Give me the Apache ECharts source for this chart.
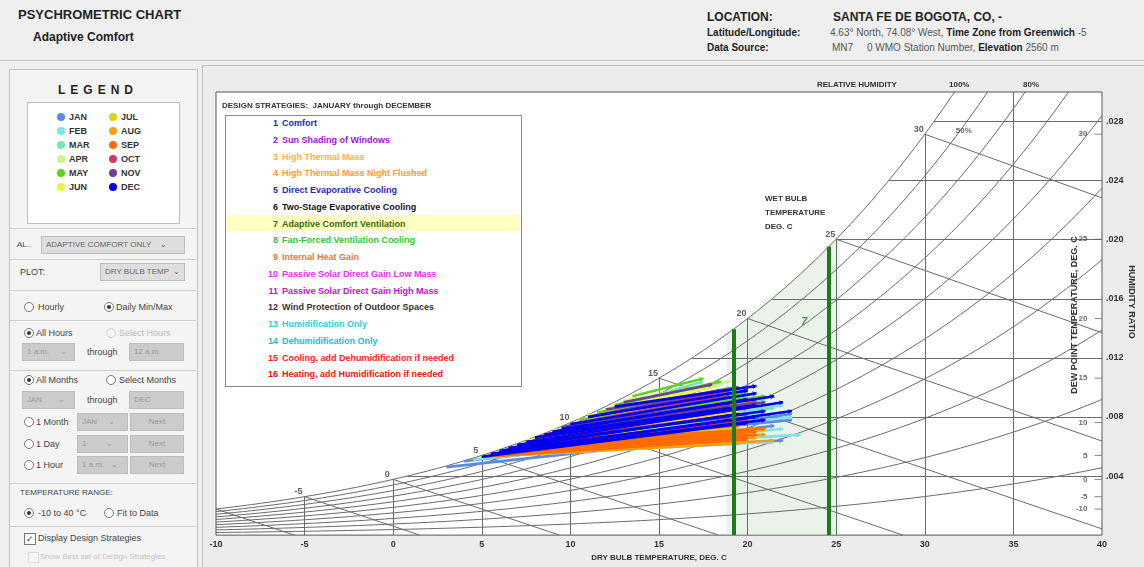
<!DOCTYPE html>
<html>
<head>
<meta charset="utf-8">
<script src="https://cdn.jsdelivr.net/npm/echarts@6/dist/echarts.min.js"></script>
<style>
body{margin:0;width:1144px;height:567px;background:#efefef;font-family:"Liberation Sans",Arial,sans-serif;position:relative;overflow:hidden;color:#333}
.abs{position:absolute;white-space:nowrap}
.b{font-weight:bold}
.p9{font-size:9px;color:#444}
.rd{position:absolute;width:10px;height:10px;border:1px solid #777;border-radius:50%;background:#fff;box-sizing:border-box}
.rd.on::after{content:'';position:absolute;left:2px;top:2px;width:4px;height:4px;border-radius:50%;background:#333}
.rd.off{border-color:#d0d0d0;background:#f6f6f6}
.combo{position:absolute;height:18px;background:#cbcbcb;border:1px solid #bdbdbd;box-sizing:border-box;font-size:8px;color:#9a9a9a;padding:3px 4px;white-space:nowrap;overflow:hidden}
.combo.en{background:#dedede;color:#666}
.sep{position:absolute;left:10px;width:186px;height:0;border-top:1px solid #cfcfcf}
.dot{position:absolute;width:8px;height:8px;border-radius:50%}
.lg{position:absolute;font-size:9px;font-weight:bold;color:#333}
#chart{position:absolute;left:203px;top:66px;width:941px;height:501px}
.strat{position:absolute;left:226px;font-size:9px;font-weight:bold;line-height:12px;white-space:nowrap}
.strat span{display:inline-block;width:52px;text-align:right;margin-right:4px}
</style>
</head>
<body>
<!-- header -->
<div class="abs b" style="left:18px;top:7px;font-size:13px;color:#222">PSYCHROMETRIC CHART</div>
<div class="abs b" style="left:33px;top:30px;font-size:12px;color:#222">Adaptive Comfort</div>
<div class="abs b" style="left:707px;top:10px;font-size:12px;color:#222">LOCATION:</div>
<div class="abs b" style="left:833px;top:10px;font-size:12px;color:#222">SANTA FE DE BOGOTA, CO, -</div>
<div class="abs b" style="left:707px;top:27px;font-size:10px;color:#222">Latitude/Longitude:</div>
<div class="abs" style="left:830px;top:27px;font-size:10px;color:#555">4.63° North, 74.08° West, <b style="color:#222">Time Zone from Greenwich</b> -5</div>
<div class="abs b" style="left:707px;top:42px;font-size:10px;color:#222">Data Source:</div>
<div class="abs" style="left:832px;top:42px;font-size:10px;color:#555">MN7 &nbsp; &nbsp; 0 WMO Station Number, <b style="color:#222">Elevation</b> 2560 m</div>
<div class="abs" style="left:0;top:60px;width:1144px;height:0;border-top:1px solid #c4c4c4"></div>

<!-- left panel -->
<div class="abs" style="left:9px;top:69px;width:187px;height:500px;border:1px solid #c0c0c0;background:#f4f4f4"></div>
<div class="abs b" style="left:58px;top:83px;font-size:12px;letter-spacing:5px;color:#222">LEGEND</div>
<div class="abs" style="left:27px;top:102px;width:151px;height:120px;border:1px solid #bdbdbd;background:#fff"></div>
<div id="legend"></div>
<div class="sep" style="top:228px"></div>
<div class="abs p9" style="left:17px;top:240px;font-size:8px">AL..</div>
<div class="combo en" style="left:41px;top:236px;width:144px">ADAPTIVE COMFORT ONLY &nbsp;&nbsp; ⌄</div>
<div class="sep" style="top:259px"></div>
<div class="abs p9" style="left:20px;top:267px">PLOT:</div>
<div class="combo en" style="left:100px;top:263px;width:85px">DRY BULB TEMP &nbsp;⌄</div>
<div class="sep" style="top:290px"></div>
<div class="rd" style="left:24px;top:302px"></div><div class="abs p9" style="left:38px;top:302px">Hourly</div>
<div class="rd on" style="left:104px;top:302px"></div><div class="abs p9" style="left:116px;top:302px">Daily Min/Max</div>
<div class="sep" style="top:320px"></div>
<div class="rd on" style="left:24px;top:328px"></div><div class="abs p9" style="left:36px;top:328px">All Hours</div>
<div class="rd off" style="left:106px;top:328px"></div><div class="abs p9" style="left:119px;top:328px;color:#bbb">Select Hours</div>
<div class="combo" style="left:22px;top:343px;width:53px">1 a.m. &nbsp; &nbsp; ⌄</div>
<div class="abs p9" style="left:87px;top:347px">through</div>
<div class="combo" style="left:129px;top:343px;width:55px">12 a.m.</div>
<div class="sep" style="top:370px"></div>
<div class="rd on" style="left:24px;top:375px"></div><div class="abs p9" style="left:36px;top:375px">All Months</div>
<div class="rd" style="left:106px;top:375px"></div><div class="abs p9" style="left:119px;top:375px">Select Months</div>
<div class="combo" style="left:22px;top:391px;width:53px">JAN &nbsp; &nbsp; &nbsp; ⌄</div>
<div class="abs p9" style="left:87px;top:395px">through</div>
<div class="combo" style="left:129px;top:391px;width:55px">DEC</div>
<div class="rd" style="left:24px;top:417px"></div><div class="abs p9" style="left:36px;top:417px">1 Month</div>
<div class="combo" style="left:77px;top:413px;width:51px">JAN &nbsp; &nbsp; ⌄</div>
<div class="combo" style="left:130px;top:413px;width:54px;text-align:center">Next</div>
<div class="rd" style="left:24px;top:439px"></div><div class="abs p9" style="left:36px;top:439px">1 Day</div>
<div class="combo" style="left:77px;top:435px;width:51px">1 &nbsp; &nbsp; &nbsp; &nbsp; ⌄</div>
<div class="combo" style="left:130px;top:435px;width:54px;text-align:center">Next</div>
<div class="rd" style="left:24px;top:460px"></div><div class="abs p9" style="left:36px;top:460px">1 Hour</div>
<div class="combo" style="left:77px;top:456px;width:51px">1 a.m. &nbsp; ⌄</div>
<div class="combo" style="left:130px;top:456px;width:54px;text-align:center">Next</div>
<div class="sep" style="top:483px"></div>
<div class="abs p9" style="left:20px;top:488px;font-size:8px">TEMPERATURE RANGE:</div>
<div class="rd on" style="left:24px;top:508px"></div><div class="abs p9" style="left:38px;top:508px">-10 to 40 °C</div>
<div class="rd" style="left:104px;top:508px"></div><div class="abs p9" style="left:117px;top:508px">Fit to Data</div>
<div class="sep" style="top:526px"></div>
<div class="abs" style="left:24px;top:533px;width:10px;height:10px;border:1px solid #777;background:#fff;font-size:9px;line-height:10px;text-align:center">✓</div>
<div class="abs p9" style="left:38px;top:533px">Display Design Strategies</div>
<div class="abs" style="left:28px;top:552px;width:9px;height:9px;border:1px solid #ddd;background:#f7f7f7"></div>
<div class="abs p9" style="left:40px;top:552px;font-size:8px;color:#c4c4c4">Show Best set of Design Strategies</div>

<!-- chart panel -->
<div class="abs" style="left:202px;top:65px;width:942px;height:502px;border:1px solid #c0c0c0;box-sizing:border-box"></div>
<div id="chart"></div>

<!-- design strategies box -->
<div class="abs b" style="left:222px;top:101px;font-size:8px;color:#333">DESIGN STRATEGIES:&nbsp; JANUARY through DECEMBER</div>
<div class="abs" style="left:225px;top:115px;width:295px;height:270px;border:1px solid #8a8a8a;background:#fff"></div>
<div class="abs" style="left:226px;top:215px;width:294px;height:16px;background:#ffffc4"></div>
<div id="strats"></div>

<script>
// month legend
var monthNames = ['JAN','FEB','MAR','APR','MAY','JUN','JUL','AUG','SEP','OCT','NOV','DEC'];
var monthColors = ['#5b8be0','#7fe2ea','#6fe6b6','#cdf58c','#5fd21a','#eef43c','#e2cf10','#f5a012','#ff6c00','#d2386e','#6b3f9a','#0000f0'];

// design strategies
var stratNames = ['Comfort','Sun Shading of Windows','High Thermal Mass','High Thermal Mass Night Flushed',
  'Direct Evaporative Cooling','Two-Stage Evaporative Cooling','Adaptive Comfort Ventilation','Fan-Forced Ventilation Cooling',
  'Internal Heat Gain','Passive Solar Direct Gain Low Mass','Passive Solar Direct Gain High Mass','Wind Protection of Outdoor Spaces',
  'Humidification Only','Dehumidification Only','Cooling, add Dehumidification if needed','Heating, add Humidification if needed'];
var stratColors = ['#2323c8','#9a12d0','#ffb04a','#ff9a30','#2a2ab0','#151515','#3a6a00','#30c830',
  '#e07a3a','#ee2cee','#c810d0','#3a3030','#2ccfd6','#22bcd0','#ff2222','#f01010'];

// daily min / max lines: [t min, w min, t max, w max]
var jan = [[3.0,0.0046,20.0,0.0068],[4.0,0.0050,21.5,0.0074],[5.0,0.0053,22.5,0.0082],[6.0,0.0057,21.0,0.0086],
  [7.5,0.0063,20.5,0.0090],[5.5,0.0055,22.0,0.0064],[8.5,0.0068,21.0,0.0094],[4.5,0.0051,19.5,0.0070],
  [9.5,0.0073,20.0,0.0097],[6.5,0.0059,22.5,0.0078]];
var feb = [[4.5,0.0051,22.0,0.0072],[6.0,0.0057,22.5,0.0080],[5.0,0.0053,21.5,0.0063],[7.0,0.0061,22.0,0.0088],
  [8.0,0.0066,21.0,0.0092],[10.5,0.0078,19.0,0.0100],[5.5,0.0055,23.0,0.0068],[9.0,0.0070,20.5,0.0096]];
var mar = [[6.0,0.0057,21.0,0.0082],[8.0,0.0066,20.5,0.0090],[10.0,0.0075,19.5,0.0098],[7.0,0.0061,21.5,0.0086],
  [11.0,0.0080,18.5,0.0102],[9.0,0.0070,20.0,0.0094],[12.0,0.0085,17.5,0.0104],[6.5,0.0059,20.5,0.0078]];
var apr = [[9.0,0.0071,20.0,0.0092],[10.5,0.0078,19.5,0.0098],[12.0,0.0085,18.5,0.0102],[8.0,0.0066,20.5,0.0088],
  [11.0,0.0081,20.0,0.0096],[13.0,0.0091,19.0,0.0104],[9.5,0.0073,21.0,0.0090],[7.5,0.0064,19.5,0.0084]];
var may = [[10.0,0.0075,20.0,0.0096],[11.5,0.0083,19.5,0.0100],[9.0,0.0070,20.5,0.0090],[12.5,0.0088,18.5,0.0104],
  [8.5,0.0068,19.5,0.0086],[13.5,0.0094,17.5,0.0106],[10.5,0.0078,21.0,0.0094],[9.5,0.0072,20.0,0.0088]];
var jun = [[9.0,0.0070,19.0,0.0090],[10.0,0.0075,19.5,0.0094],[8.0,0.0066,20.0,0.0086],[11.0,0.0080,18.5,0.0098],
  [7.5,0.0064,19.0,0.0082],[9.5,0.0072,20.5,0.0088],[12.0,0.0085,18.0,0.0100],[8.5,0.0068,19.5,0.0084]];
var jul = [[6.5,0.0059,19.5,0.0073],[7.0,0.0061,20.0,0.0077],[6.0,0.0057,19.0,0.0069],[8.0,0.0065,19.5,0.0081],
  [5.5,0.0055,20.5,0.0067],[7.5,0.0063,18.5,0.0075],[9.0,0.0069,19.0,0.0083],[6.5,0.0058,21.0,0.0071]];
var aug = [[5.5,0.0055,20.0,0.0064],[6.0,0.0057,20.5,0.0066],[5.0,0.0053,19.5,0.0062],[6.5,0.0059,21.0,0.0068],
  [7.0,0.0060,20.0,0.0070],[5.5,0.0054,21.5,0.0064],[6.0,0.0056,19.0,0.0066],[7.5,0.0062,20.5,0.0072]];
var sep = [[5.5,0.0055,20.0,0.0066],[6.0,0.0057,19.5,0.0068],[6.5,0.0059,20.5,0.0070],[5.0,0.0053,19.0,0.0064],
  [7.0,0.0061,21.0,0.0072],[6.0,0.0056,20.5,0.0068],[7.5,0.0063,19.5,0.0074],[5.5,0.0054,20.0,0.0065]];
var oct = [[7.0,0.0061,19.5,0.0082],[8.5,0.0068,19.0,0.0088],[10.0,0.0075,18.5,0.0094],[6.5,0.0059,20.0,0.0078],
  [9.0,0.0070,20.5,0.0090],[11.0,0.0080,19.0,0.0098],[7.5,0.0063,18.5,0.0080],[8.0,0.0066,20.0,0.0086]];
var nov = [[8.0,0.0066,19.5,0.0088],[9.5,0.0073,19.0,0.0094],[11.0,0.0080,18.5,0.0098],[7.0,0.0061,20.0,0.0082],
  [12.0,0.0085,19.5,0.0100],[10.0,0.0075,20.5,0.0092],[8.5,0.0068,18.0,0.0086],[13.0,0.0090,18.0,0.0102],
  [7.5,0.0063,19.0,0.0080],[9.0,0.0070,21.0,0.0090]];
var dec = [[5.0,0.0053,20.0,0.0076],[6.0,0.0057,20.5,0.0080],[7.0,0.0061,21.0,0.0084],[8.0,0.0066,20.5,0.0088],
  [9.0,0.0070,20.0,0.0092],[10.0,0.0075,20.5,0.0096],[11.0,0.0080,20.0,0.0098],[12.5,0.0087,20.5,0.0101],
  [6.5,0.0059,19.5,0.0082],[7.5,0.0063,22.0,0.0090],[5.5,0.0055,21.0,0.0078],[8.5,0.0068,19.0,0.0086],
  [9.5,0.0072,21.5,0.0094],[6.0,0.0056,22.5,0.0084]];
var monthData = [jan,feb,mar,apr,may,jun,jul,aug,sep,oct,nov,dec];

// chart furniture
var tempLines = [-5,0,5,10,15,20,25,30,35];
var rhLevels = [0.1,0.2,0.3,0.4,0.5,0.6,0.7,0.8,0.9,1.0];
var wLevels = [0.004,0.008,0.012,0.016,0.020,0.024,0.028];
var wbLevels = [-10,-5,0,5,10,15,20,25,30];
var wbLabels = [-5,0,5,10,15,20,25,30];
var dewTicks = [-10,-5,0,5,10,15,20,25,30];
var comfortLow = 19.2, comfortHigh = 24.6;
var zoneLeft = 18.8, zoneRight = 25.2;

// legend + strategies html
var lh = '';
monthNames.forEach(function(m, i){
  var col = i < 6 ? 0 : 1, row = i % 6;
  var x = col ? 109 : 57, y = 113 + row * 14;
  lh += '<div class="dot" style="left:' + x + 'px;top:' + y + 'px;background:' + monthColors[i] + '"></div>';
  lh += '<div class="lg" style="left:' + (x + 12) + 'px;top:' + (y - 1) + 'px">' + m + '</div>';
});
document.getElementById('legend').innerHTML = lh;
var sh = '';
stratNames.forEach(function(s, i){
  sh += '<div class="strat" style="top:' + (117 + i * 16.75) + 'px;color:' + stratColors[i] + '"><span>' + (i + 1) + '</span>' + s + '</div>';
});
document.getElementById('strats').innerHTML = sh;

// psychrometrics at sea level
var P = 101.325;
function pws(t){ return 0.61094 * Math.exp(17.625 * t / (t + 243.04)); }
function wrh(t, rh){ var p = rh * pws(t); return 0.622 * p / (P - p); }
function wsat(t){ return wrh(t, 1); }
function tdew(w){ var pv = w * P / (0.622 + w); var a = Math.log(pv / 0.61094); return 243.04 * a / (17.625 - a); }
function wwb(t, twb){ return ((2501 - 2.326 * twb) * wsat(twb) - 1.006 * (t - twb)) / (2501 + 1.86 * t - 4.186 * twb); }

var gridColor = '#6a6a6a';
var series = [];

// shaded adaptive comfort zone
var zone = [];
for (var t = zoneLeft; t <= zoneRight + 0.001; t += 0.2) zone.push([t, wsat(t)]);
series.push({type:'line', data:zone, symbol:'none', silent:true, lineStyle:{opacity:0},
  areaStyle:{color:'rgba(200,222,200,0.55)'}, z:1});

rhLevels.forEach(function(rh){
  var d = [];
  for (var t = -10; t <= 40.001; t += 0.5) {
    var w = wrh(t, rh); d.push([t, w]);
    if (w > 0.031) break;
  }
  series.push({type:'line', data:d, symbol:'none', silent:true, lineStyle:{color:gridColor, width:1}, z:2});
});

var straight = [];
tempLines.forEach(function(t){ straight.push({coords:[[t, 0], [t, Math.min(wsat(t), 0.030)]]}); });
wLevels.forEach(function(w){ straight.push({coords:[[tdew(w), w], [40, w]]}); });
wbLevels.forEach(function(tw){
  var t0 = tw + (2501 - 2.326 * tw) * wsat(tw) / 1.006;
  var end = t0 <= 40 ? [t0, 0] : [40, wwb(40, tw)];
  straight.push({coords:[[tw, wsat(tw)], end]});
});
series.push({type:'lines', coordinateSystem:'cartesian2d', data:straight, silent:true,
  lineStyle:{color:gridColor, width:1, opacity:1}, z:2});

// monthly daily lines
monthData.forEach(function(arr, i){
  series.push({type:'lines', coordinateSystem:'cartesian2d', name:monthNames[i], silent:true,
    symbol:['none','arrow'], symbolSize:4,
    data:arr.map(function(d){ return {coords:[[d[0], d[1]], [d[2], d[3]]]}; }),
    lineStyle:{color:monthColors[i], width:2.6, opacity:1}, z:3});
});

// comfort limits
series.push({type:'lines', coordinateSystem:'cartesian2d', silent:true,
  data:[{coords:[[comfortLow, 0], [comfortLow, wsat(comfortLow)]]}, {coords:[[comfortHigh, 0], [comfortHigh, wsat(comfortHigh)]]}],
  lineStyle:{color:'#1d7a1d', width:4, opacity:1}, z:4});

// wet bulb labels on saturation curve
series.push({type:'scatter', symbolSize:0, silent:true, z:5,
  data:wbLabels.map(function(t){ return [t, wsat(t)]; }),
  label:{show:true, position:'inside', offset:[-6, -5], formatter:function(p){ return p.value[0]; },
    fontSize:9, fontWeight:'bold', color:'#333'}});
// dew point ticks on the right edge
series.push({type:'scatter', symbol:'rect', symbolSize:[7, 1], symbolOffset:[-4, 0], silent:true, z:5,
  itemStyle:{color:'#666'},
  data:dewTicks.map(function(t){ return [40, wsat(t), t]; }),
  label:{show:true, position:'left', distance:7, formatter:function(p){ return p.value[2]; },
    fontSize:8, fontWeight:'bold', color:'#444'}});
// other text in the plot
series.push({type:'scatter', symbolSize:0, silent:true, z:5,
  data:[{value:[32.2, 0.0274], label:{formatter:'50%', fontSize:8, color:'#444'}},
        {value:[23.2, 0.01443], label:{formatter:'7', fontSize:11, color:'#1d7a1d', fontStyle:'italic'}}],
  label:{show:true, position:'inside', fontWeight:'bold'}});

var chart = echarts.init(document.getElementById('chart'), null, {renderer:'canvas'});
chart.setOption({
  animation:false,
  backgroundColor:'#ececec',
  grid:{left:13, right:42, top:26, bottom:26, show:true, backgroundColor:'#ffffff', borderColor:'#555', borderWidth:1},
  xAxis:{type:'value', min:-10, max:40, interval:5,
    name:'DRY BULB TEMPERATURE, DEG. C', nameLocation:'middle', nameGap:17,
    nameTextStyle:{fontSize:8, fontWeight:'bold', color:'#333'},
    axisLine:{show:false}, axisTick:{show:false}, splitLine:{show:false},
    axisLabel:{fontSize:9, fontWeight:'bold', color:'#333', margin:5}},
  yAxis:{type:'value', position:'right', min:0, max:0.030, interval:0.004,
    axisLine:{show:false}, axisTick:{show:false}, splitLine:{show:false},
    axisLabel:{fontSize:9, fontWeight:'bold', color:'#333', margin:4,
      formatter:function(v){ if (v < 0.001 || v > 0.0285) return ''; return '.' + v.toFixed(3).split('.')[1]; }}},
  graphic:[
    {type:'text', left:614, top:15, style:{text:'RELATIVE HUMIDITY', font:'bold 8px "Liberation Sans"', fill:'#333'}},
    {type:'text', left:746, top:15, style:{text:'100%', font:'bold 8px "Liberation Sans"', fill:'#333'}},
    {type:'text', left:820, top:15, style:{text:'80%', font:'bold 8px "Liberation Sans"', fill:'#333'}},
    {type:'text', left:562, top:129, z:10, style:{text:'WET BULB', font:'bold 8px "Liberation Sans"', fill:'#333'}},
    {type:'text', left:562, top:143, z:10, style:{text:'TEMPERATURE', font:'bold 8px "Liberation Sans"', fill:'#333'}},
    {type:'text', left:562, top:157, z:10, style:{text:'DEG. C', font:'bold 8px "Liberation Sans"', fill:'#333'}},
    {type:'text', x:872, y:249, rotation:Math.PI / 2, z:10,
      style:{text:'DEW POINT TEMPERATURE, DEG. C', font:'bold 9px "Liberation Sans"', fill:'#333', align:'center', verticalAlign:'middle'}},
    {type:'text', x:928, y:236, rotation:-Math.PI / 2, z:10,
      style:{text:'HUMIDITY RATIO', font:'bold 9px "Liberation Sans"', fill:'#333', align:'center', verticalAlign:'middle'}}
  ],
  series:series
});
</script>
</body>
</html>
